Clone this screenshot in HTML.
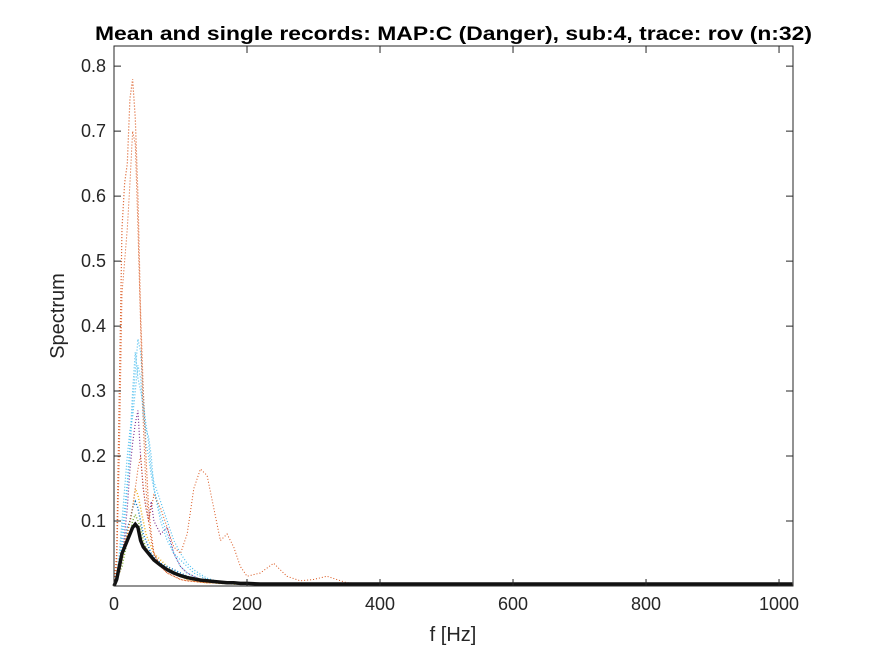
<!DOCTYPE html>
<html><head><meta charset="utf-8"><style>
html,body{margin:0;padding:0;background:#fff;}
svg{display:block;font-family:"Liberation Sans",Arial,sans-serif;}
</style></head><body>
<svg id="chart" width="875" height="656">
<rect x="0" y="0" width="875" height="656" fill="#fff"/>
<text x="95" y="40" textLength="717" lengthAdjust="spacingAndGlyphs" font-size="19" font-weight="bold" fill="#000">Mean and single records: MAP:C (Danger), sub:4, trace: rov (n:32)</text>
<rect x="114" y="46" width="679" height="540" fill="#fff"/>
<g id="series"></g>
<g id="axes"></g>
<rect x="114" y="46" width="679" height="540" fill="none" stroke="#262626" stroke-width="1"/>
<text x="453" y="641" text-anchor="middle" font-size="20" fill="#262626">f [Hz]</text>
<text transform="translate(64,316) rotate(-90)" text-anchor="middle" font-size="20" fill="#262626">Spectrum</text>
</svg>
<script>
const freqs = [0,4,8,12,16,20,24,28,32,36,40,44,48,52,56,60,70,80,90,100,110,120,130,140,150,160,170,180,190,200,220,240,260,280,300,320,350,400,500,700,1020];
const traceOrangeTall = [0,0.05,0.3,0.55,0.62,0.65,0.75,0.78,0.72,0.6,0.42,0.3,0.2,0.12,0.08,0.05,0.03,0.02,0.015,0.01,0.008,0.007,0.006,0.005,0.005,0.004,0.004,0.004,0.003,0.003,0.003,0.003,0.003,0.002,0.002,0.002,0.002,0.002,0.002,0.002,0.002];
const traceOrangeMid = [0,0.03,0.2,0.45,0.5,0.55,0.62,0.7,0.68,0.55,0.4,0.25,0.15,0.1,0.07,0.05,0.03,0.02,0.015,0.01,0.008,0.007,0.006,0.005,0.005,0.004,0.004,0.004,0.003,0.003,0.003,0.003,0.003,0.002,0.002,0.002,0.002,0.002,0.002,0.002,0.002];
const traceOrangeWide = [0,0.01,0.03,0.05,0.07,0.08,0.1,0.12,0.15,0.18,0.2,0.15,0.12,0.1,0.12,0.14,0.12,0.09,0.06,0.05,0.08,0.15,0.18,0.17,0.12,0.07,0.08,0.06,0.03,0.015,0.02,0.035,0.015,0.008,0.01,0.015,0.005,0.003,0.002,0.002,0.002];
const traceCyanA = [0,0.01,0.03,0.06,0.1,0.15,0.2,0.28,0.33,0.38,0.36,0.3,0.22,0.2,0.17,0.15,0.11,0.08,0.05,0.03,0.02,0.015,0.01,0.008,0.006,0.005,0.004,0.004,0.003,0.003,0.003,0.003,0.003,0.002,0.002,0.002,0.002,0.002,0.002,0.002,0.002];
const traceCyanB = [0,0.02,0.05,0.1,0.15,0.2,0.24,0.26,0.3,0.34,0.32,0.26,0.24,0.23,0.2,0.15,0.1,0.07,0.05,0.04,0.03,0.02,0.015,0.01,0.008,0.006,0.005,0.004,0.004,0.003,0.003,0.003,0.003,0.002,0.002,0.002,0.002,0.002,0.002,0.002,0.002];
const traceCyanC = [0,0.01,0.04,0.08,0.12,0.16,0.22,0.3,0.36,0.32,0.3,0.28,0.25,0.22,0.18,0.16,0.13,0.1,0.07,0.05,0.035,0.025,0.018,0.012,0.009,0.007,0.005,0.004,0.004,0.003,0.003,0.003,0.003,0.002,0.002,0.002,0.002,0.002,0.002,0.002,0.002];
const tracePurple = [0,0.01,0.02,0.04,0.08,0.12,0.18,0.22,0.25,0.27,0.2,0.15,0.12,0.1,0.13,0.1,0.08,0.09,0.05,0.03,0.02,0.015,0.01,0.008,0.006,0.005,0.004,0.004,0.003,0.003,0.003,0.003,0.003,0.002,0.002,0.002,0.002,0.002,0.002,0.002,0.002];
const traceYellow = [0,0.01,0.02,0.04,0.06,0.08,0.1,0.12,0.15,0.14,0.12,0.1,0.08,0.07,0.06,0.05,0.04,0.03,0.02,0.015,0.01,0.008,0.006,0.005,0.005,0.004,0.004,0.003,0.003,0.003,0.003,0.003,0.002,0.002,0.002,0.002,0.002,0.002,0.002,0.002,0.002];
const traceGreen = [0,0.01,0.02,0.03,0.05,0.07,0.08,0.1,0.11,0.1,0.09,0.07,0.06,0.05,0.045,0.04,0.03,0.025,0.02,0.015,0.012,0.01,0.008,0.006,0.005,0.004,0.004,0.003,0.003,0.003,0.003,0.003,0.002,0.002,0.002,0.002,0.002,0.002,0.002,0.002,0.002];
const traceBlue = [0,0.015,0.03,0.05,0.07,0.09,0.1,0.12,0.13,0.12,0.1,0.08,0.07,0.06,0.05,0.045,0.035,0.03,0.025,0.02,0.015,0.012,0.01,0.008,0.006,0.005,0.004,0.004,0.003,0.003,0.003,0.003,0.002,0.002,0.002,0.002,0.002,0.002,0.002,0.002,0.002];
const traceMean = [0,0.01,0.03,0.05,0.06,0.07,0.08,0.09,0.095,0.09,0.07,0.06,0.055,0.05,0.045,0.04,0.032,0.025,0.02,0.016,0.013,0.011,0.009,0.008,0.007,0.006,0.005,0.005,0.004,0.004,0.003,0.003,0.003,0.003,0.003,0.003,0.003,0.003,0.003,0.003,0.003];
const xTicks = [0,200,400,600,800,1000];
const yTicks = [0.1,0.2,0.3,0.4,0.5,0.6,0.7,0.8];
const xMin = 0, xMax = 1021, yMin = 0, yMax = 0.831;
const L = 114, R = 793, T = 46, B = 586;
const sx = v => L + (v - xMin) / (xMax - xMin) * (R - L);
const sy = v => B - (v - yMin) / (yMax - yMin) * (B - T);
const NS = "http://www.w3.org/2000/svg";
const series = document.getElementById('series');
const axes = document.getElementById('axes');
function line(vals, color, dashed, width, name) {
  const p = document.createElementNS(NS, 'polyline');
  p.setAttribute('points', vals.map((v, i) => sx(freqs[i]) + ',' + sy(v)).join(' '));
  p.setAttribute('fill', 'none');
  p.setAttribute('stroke', color);
  p.setAttribute('stroke-width', width);
  if (dashed) p.setAttribute('stroke-dasharray', '1,2');
  
  
  series.appendChild(p);
}
line(traceGreen, '#77ac30', true, 1.5, 'trace-green');
line(traceYellow, '#edb120', true, 1.5, 'trace-yellow');
line(traceBlue, '#0072bd', true, 1.5, 'trace-blue');
line(tracePurple, '#7e2f8e', true, 1.2, 'trace-purple');
line(traceCyanC, '#4dbeee', true, 1.2, 'trace-cyan-c');
line(traceCyanB, '#4dbeee', true, 1.2, 'trace-cyan-b');
line(traceCyanA, '#4dbeee', true, 1.2, 'trace-cyan-a');
line(traceOrangeWide, '#d95319', true, 1, 'trace-orange-wide');
line(traceOrangeMid, '#d95319', true, 1, 'trace-orange-mid');
line(traceOrangeTall, '#d95319', true, 1.2, 'trace-orange-tall');
line(traceMean, '#111', false, 3.5, 'mean-line');
xTicks.forEach(v => {
  const x = sx(v);
  const t = document.createElementNS(NS, 'path');
  t.setAttribute('d', `M${x},${B}V${B-7}M${x},${T}V${T+7}`);
  t.setAttribute('stroke', '#262626');
  
  
  axes.appendChild(t);
  const l = document.createElementNS(NS, 'text');
  l.setAttribute('x', x); l.setAttribute('y', B + 24);
  l.setAttribute('text-anchor', 'middle'); l.setAttribute('font-size', '18'); l.setAttribute('fill', '#262626');
  l.textContent = v;
  
  
  axes.appendChild(l);
});
yTicks.forEach(v => {
  const y = sy(v);
  const t = document.createElementNS(NS, 'path');
  t.setAttribute('d', `M${L},${y}H${L+7}M${R},${y}H${R-7}`);
  t.setAttribute('stroke', '#262626');
  
  
  axes.appendChild(t);
  const l = document.createElementNS(NS, 'text');
  l.setAttribute('x', L - 8); l.setAttribute('y', y + 6);
  l.setAttribute('text-anchor', 'end'); l.setAttribute('font-size', '18'); l.setAttribute('fill', '#262626');
  l.textContent = v.toFixed(1);
  
  
  axes.appendChild(l);
});
</script>
</body></html>
